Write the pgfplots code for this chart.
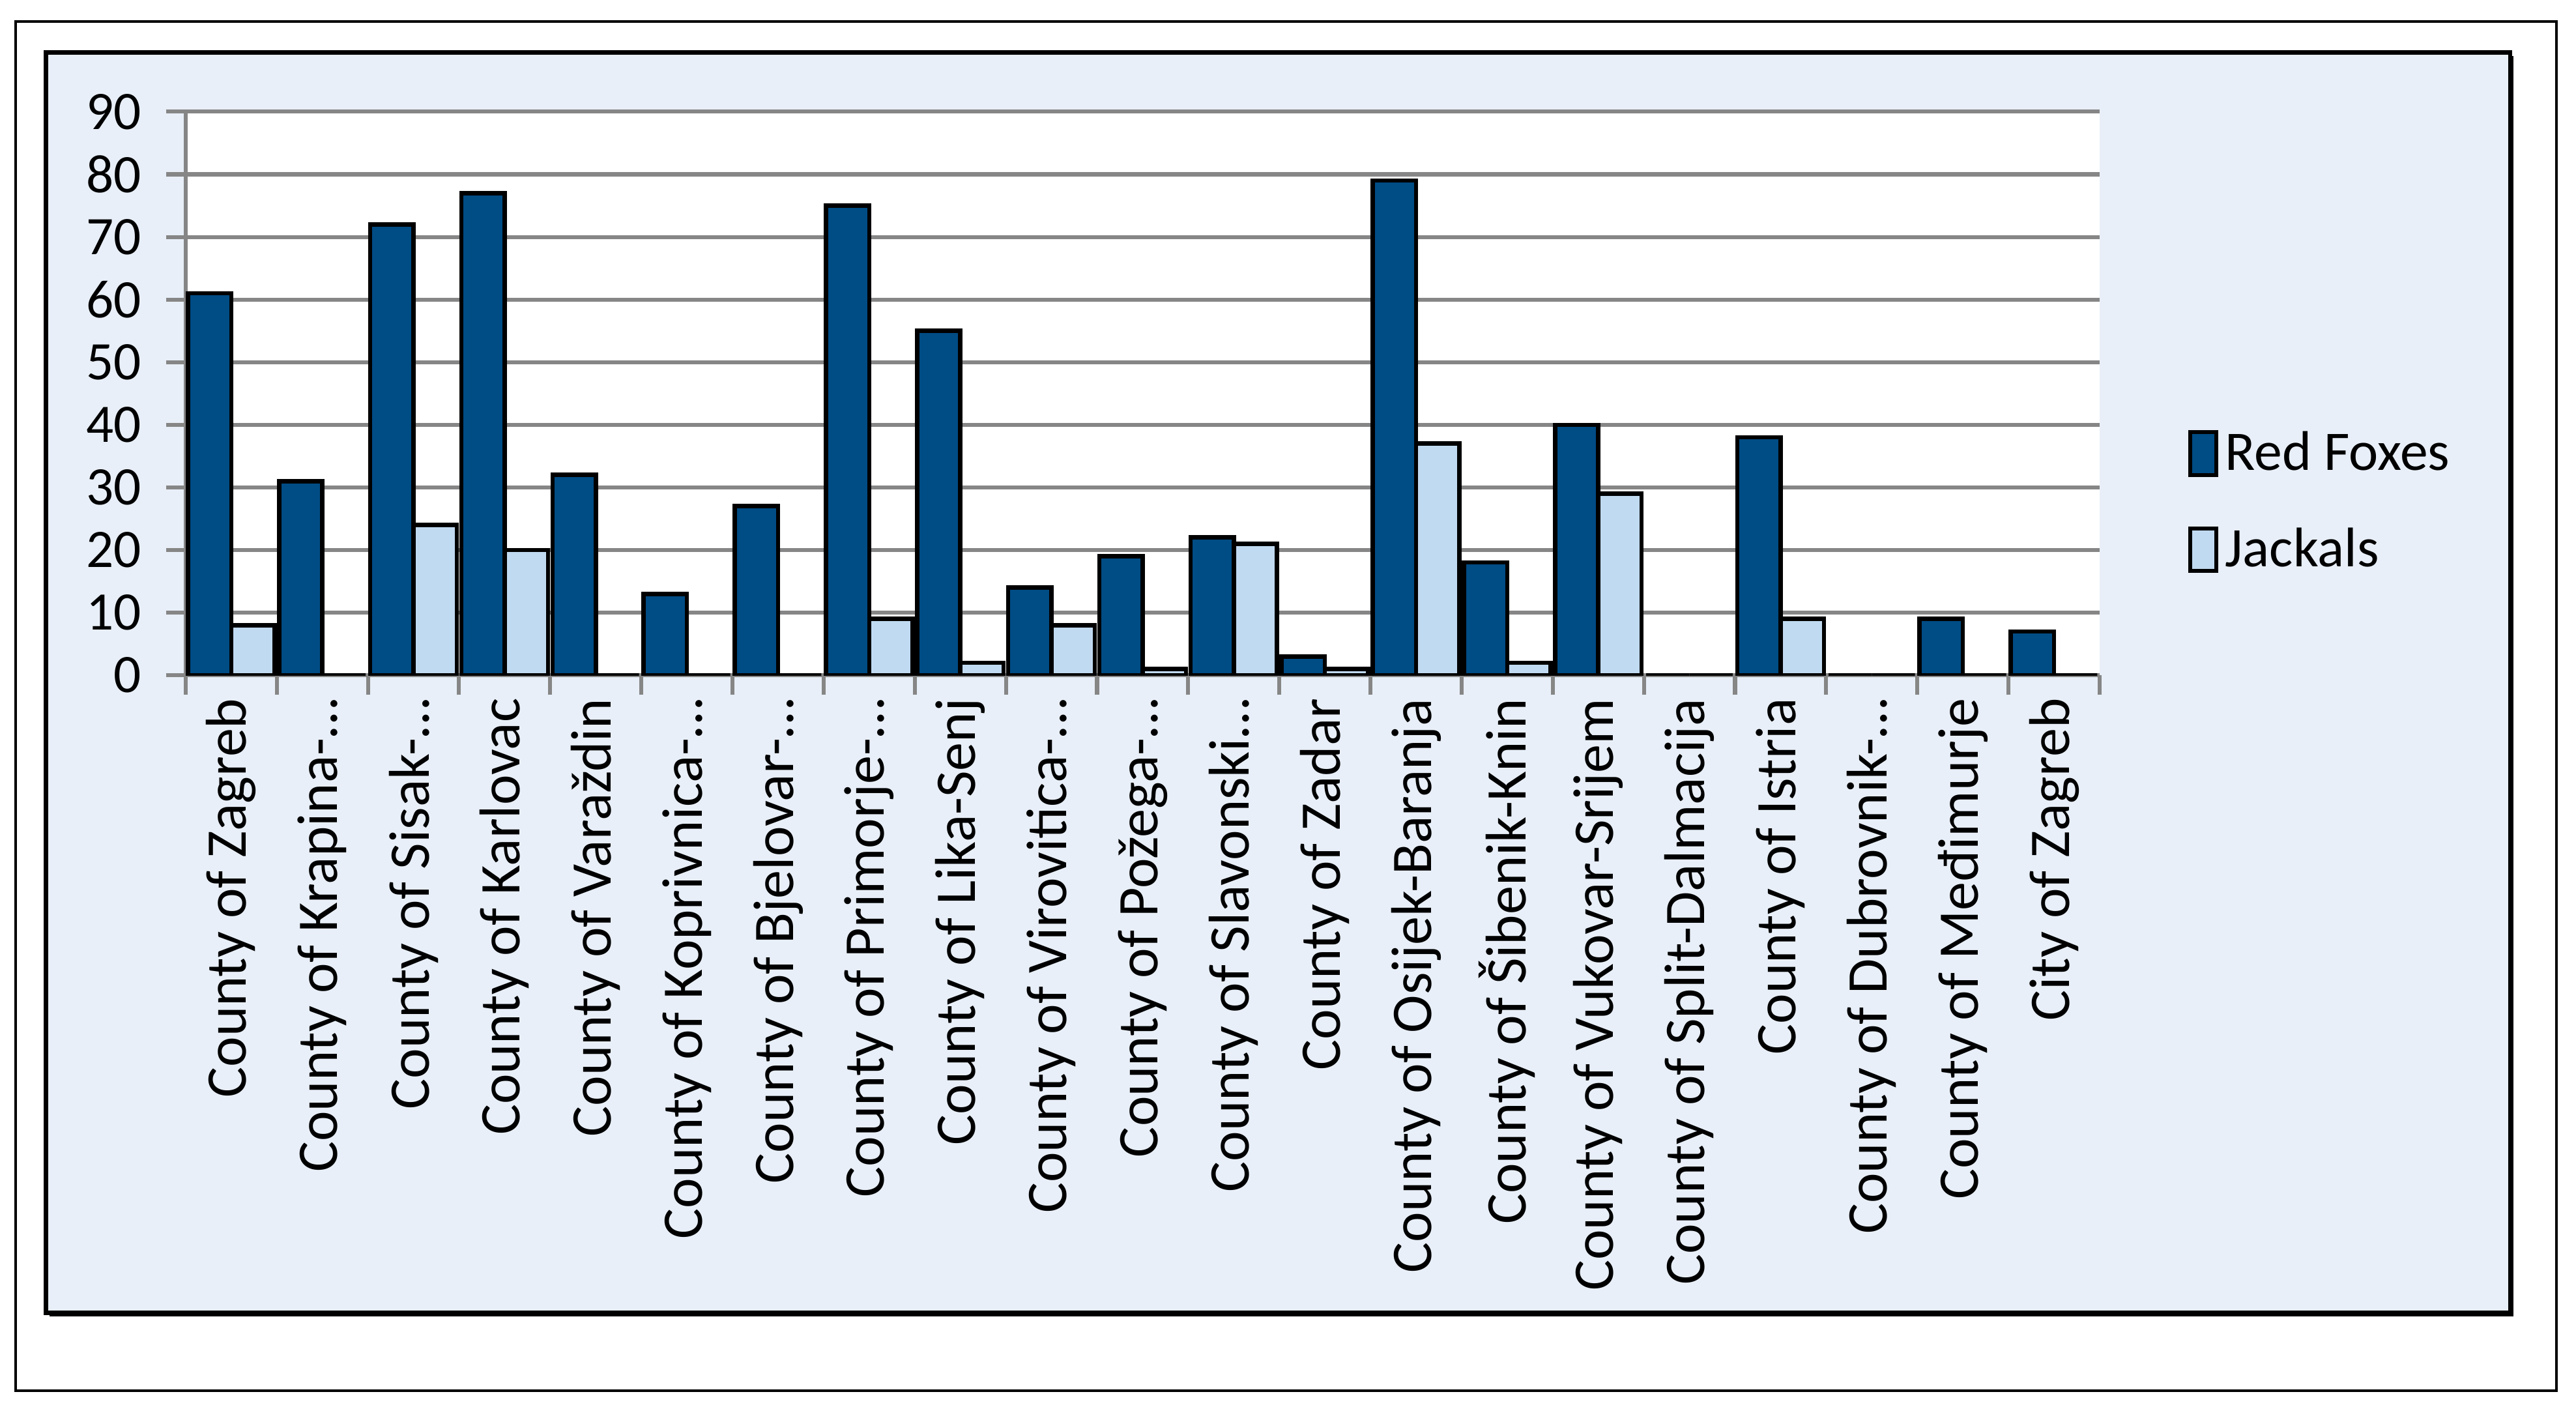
\documentclass[border=0pt]{standalone}
\usepackage{fontspec}
\setmainfont{Carlito}
\usepackage{pgfplots}
\pgfplotsset{compat=1.18}
\definecolor{fox}{RGB}{0,76,133}
\definecolor{jackal}{RGB}{192,218,241}
\definecolor{bgblue}{RGB}{232,239,248}
\definecolor{gridgray}{RGB}{134,134,134}
\begin{document}
\begin{tikzpicture}
\useasboundingbox (0,0) rectangle (784pt,428pt);
\draw[line width=0.8pt] (4.75pt,4.75pt) rectangle (778pt,421.5pt);
\fill[black] (15pt,27.3pt) rectangle (765pt,411pt);
\filldraw[fill=bgblue, draw=black, line width=1.3pt] (14pt,28.5pt) rectangle (764pt,412pt);
\begin{axis}[
  at={(56.5pt,222.5pt)}, anchor=south west,
  scale only axis, width=582.5pt, height=171.5pt,
  xmin=0.5, xmax=21.5, ymin=0, ymax=90,
  axis x line*=bottom, axis y line*=left,
  axis line style={gridgray, line width=1.2pt},
  axis background/.style={fill=white},
  ytick={0,10,...,90},
  ymajorgrids, major grid style={gridgray, line width=1.2pt},
  tick align=outside,
  major tick length=6pt,
  tick style={gridgray, line width=1.2pt},
  xtick={0.5,1.5,...,21.5},
  xticklabels={},
  extra x ticks={1,...,21},
  extra x tick labels={County of Zagreb, County of Krapina-…, County of Sisak-…, County of Karlovac, County of Varaždin, County of Koprivnica-…, County of Bjelovar-…, County of Primorje-…, County of Lika-Senj, County of Virovitica-…, County of Požega-…, County of Slavonski…, County of Zadar, County of Osijek-Baranja, County of Šibenik-Knin, County of Vukovar-Srijem, County of Split-Dalmacija, County of Istria, County of Dubrovnik-…, County of Međimurje, City of Zagreb},
  extra x tick style={major tick length=0pt, xticklabel style={yshift=-3.5pt, rotate=90, anchor=east, font=\fontsize{17.5pt}{20pt}\selectfont}},
  y tick label style={font=\fontsize{16.5pt}{19pt}\selectfont, xshift=-4pt},
  /pgf/number format/assume math mode=true,
  ybar=0pt, bar width=0.475,
  legend style={at={(1.046,0.308)}, anchor=west, draw=none, fill=none, inner sep=0pt,
    font=\fontsize{17pt}{20pt}\selectfont, row sep=12pt, nodes={inner sep=2pt}},
  legend cell align=left,
  legend image code/.code={\draw[#1, line width=1.2pt] (0pt,-6.5pt) rectangle (8pt,6.5pt);},
]
\addplot[fill=fox, draw=black, line width=1.3pt] coordinates {
(1,61) (2,31) (3,72) (4,77) (5,32) (6,13) (7,27) (8,75) (9,55) (10,14) (11,19)
(12,22) (13,3) (14,79) (15,18) (16,40) (17,0) (18,38) (19,0) (20,9) (21,7)};
\addplot[fill=jackal, draw=black, line width=1.3pt] coordinates {
(1,8) (2,0) (3,24) (4,20) (5,0) (6,0) (7,0) (8,9) (9,2) (10,8) (11,1)
(12,21) (13,1) (14,37) (15,2) (16,29) (17,0) (18,9) (19,0) (20,0) (21,0)};
\legend{Red Foxes, Jackals}
\end{axis}
\end{tikzpicture}
\end{document}
